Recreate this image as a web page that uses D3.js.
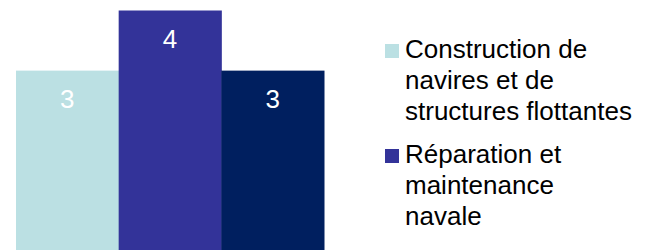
<!DOCTYPE html>
<meta charset="utf-8">
<script src="https://cdn.jsdelivr.net/npm/d3@7"></script>
<style>
  body { margin: 0; background: #fff; }
  text { font-family: "Liberation Sans", Arial, sans-serif; }
</style>
<div id="my_dataviz"></div>
<script>

// data
var series = ["Construction de navires et de structures flottantes", "Réparation et maintenance navale", "Autres"];
var values = [3, 4, 3];
var colors = ["#bbe0e3", "#333399", "#001f5f"];
// legend shows only the first two entries, already wrapped
var legendLines = [
  ["Construction de", "navires et de", "structures flottantes"],
  ["Réparation et", "maintenance", "navale"]
];

var width = 647, height = 250;

var svg = d3.select("#my_dataviz")
  .append("svg")
    .attr("width", width)
    .attr("height", height);

// X scale for the bars
var x = d3.scaleBand()
  .domain(series)
  .range([16, 324])
  .padding(0);

// Y scale
var y = d3.scaleLinear()
  .domain([0, 4])
  .range([251, 10.5]);

// bars
svg.append("g")
  .selectAll("rect")
  .data(values)
  .enter()
  .append("rect")
    .attr("x", function(d, i) { return x(series[i]); })
    .attr("y", function(d) { return y(d); })
    .attr("width", x.bandwidth() + 0.5)
    .attr("height", function(d) { return y(0) - y(d); })
    .style("fill", function(d, i) { return colors[i]; });

// value labels
svg.append("g")
  .selectAll("text")
  .data(values)
  .enter()
  .append("text")
    .attr("x", function(d, i) { return x(series[i]) + x.bandwidth() / 2; })
    .attr("y", function(d) { return y(d) + 37; })
    .attr("text-anchor", "middle")
    .style("font-size", "26px")
    .style("fill", "#ffffff")
    .text(function(d) { return d; });

// legend
var legendTop = [58, 163];
legendLines.forEach(function(lines, i) {
  svg.append("rect")
    .attr("x", 385)
    .attr("y", legendTop[i] - 14)
    .attr("width", 14)
    .attr("height", 14)
    .style("fill", colors[i]);
  var t = svg.append("text")
    .attr("x", 405)
    .attr("y", legendTop[i])
    .style("font-size", "26px")
    .style("fill", "#000");
  lines.forEach(function(l, j) {
    t.append("tspan")
      .attr("x", 405)
      .attr("dy", j == 0 ? 0 : 31)
      .text(l);
  });
});

</script>
